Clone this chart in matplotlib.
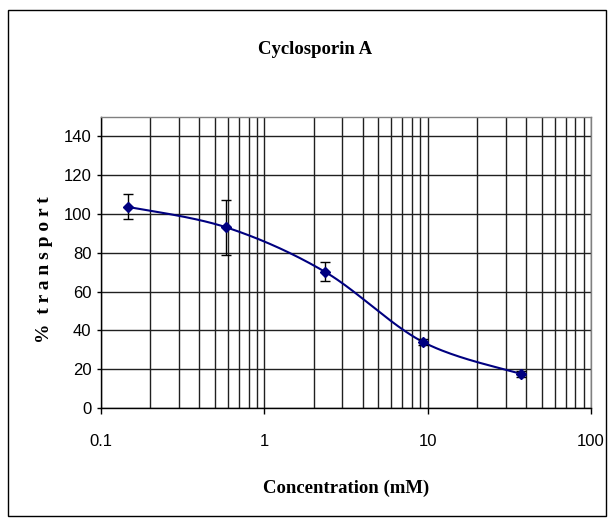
import numpy as np
import matplotlib
matplotlib.use("Agg")
import matplotlib.pyplot as plt
from matplotlib.patches import Rectangle
from matplotlib.ticker import FixedLocator, NullFormatter, LogLocator

# Data
concentration = [0.146, 0.586, 2.34, 9.375, 37.5]
transport = [103.7, 93.1, 70.3, 34.0, 17.5]
err = [6.5, 14.0, 4.8, 1.5, 1.5]
yticks = [0, 20, 40, 60, 80, 100, 120, 140]
xticks = [0.1, 1, 10, 100]
xticklabels = ["0.1", "1", "10", "100"]

title = "Cyclosporin A"
xlabel = "Concentration (mM)"
ylabel = "%  t r a n s p o r t"

W, H = 611, 524
fig = plt.figure(figsize=(W / 100, H / 100), dpi=100)
fig.patch.set_facecolor("white")

# outer chart border
fig.add_artist(Rectangle((8 / W, 1 - 516 / H), (606 - 8) / W, (516 - 10) / H,
                         transform=fig.transFigure, fill=False, ec="black", lw=1.0))

left, right, top, bottom = 101, 591, 117, 408
ax = fig.add_axes([left / W, 1 - bottom / H, (right - left) / W, (bottom - top) / H])
ax.set_xscale("log")
ax.set_xlim(0.1, 100)
ax.set_ylim(0, 150)

# grid
ax.xaxis.set_major_locator(FixedLocator(xticks))
ax.xaxis.set_minor_locator(LogLocator(base=10, subs=np.arange(2, 10)))
ax.xaxis.set_minor_formatter(NullFormatter())
ax.set_xticklabels(xticklabels)
ax.set_yticks(yticks)
ax.grid(True, which="major", axis="both", color="#202020", lw=1.0)
ax.grid(True, which="minor", axis="x", color="#202020", lw=1.0)
ax.set_axisbelow(True)
for s in ["top", "right"]:
    ax.spines[s].set_color("#808080")
    ax.spines[s].set_linewidth(1.0)
for s in ["left", "bottom"]:
    ax.spines[s].set_color("black")
    ax.spines[s].set_linewidth(1.0)

ax.tick_params(axis="x", which="major", direction="out", length=4, width=1, pad=15,
               labelsize=12)
ax.tick_params(axis="x", which="minor", length=0)
ax.tick_params(axis="y", direction="out", length=3, width=1, pad=4, labelsize=12)
for lab in ax.get_xticklabels() + ax.get_yticklabels():
    lab.set_fontfamily("Liberation Sans")

# smoothed line (Excel style Bezier through points, in display-proportional space)
xs = np.log10(np.array(concentration))
ys = np.array(transport)
px_per_dec = (right - left) / 3.0
px_per_unit = (bottom - top) / 150.0
pts = np.column_stack([xs * px_per_dec, ys * px_per_unit])
n = len(pts)
samples = []
for i in range(n - 1):
    p0 = pts[i - 1] if i > 0 else pts[i]
    p1 = pts[i]
    p2 = pts[i + 1]
    p3 = pts[i + 2] if i + 2 < n else pts[i + 1]
    c1 = p1 + (p2 - p0) / 6.0
    c2 = p2 - (p3 - p1) / 6.0
    t = np.linspace(0, 1, 40)[:, None]
    b = ((1 - t) ** 3) * p1 + 3 * ((1 - t) ** 2) * t * c1 + 3 * (1 - t) * t ** 2 * c2 + t ** 3 * p2
    samples.append(b)
samples = np.vstack(samples)
cx = 10 ** (samples[:, 0] / px_per_dec)
cy = samples[:, 1] / px_per_unit
ax.plot(cx, cy, color="#000080", lw=1.5, zorder=3)

ax.errorbar(concentration, transport, yerr=err, fmt="none", ecolor="black",
            elinewidth=1.0, capsize=3.5, capthick=1.0, zorder=4)
ax.plot(concentration, transport, linestyle="none", marker="D", markersize=5.5,
        color="#000080", zorder=5)

fig.text(315 / W, 1 - 50 / H, title, ha="center", va="center",
         fontfamily="Liberation Serif", fontweight="bold", fontsize=13.5)
fig.text(346 / W, 1 - 488 / H, xlabel, ha="center", va="center",
         fontfamily="Liberation Serif", fontweight="bold", fontsize=13.5)
fig.text(45 / W, 1 - 270 / H, ylabel, ha="center", va="center", rotation=90,
         fontfamily="Liberation Serif", fontweight="bold", fontsize=14)

fig.savefig("out.png", dpi=100, facecolor="white")
